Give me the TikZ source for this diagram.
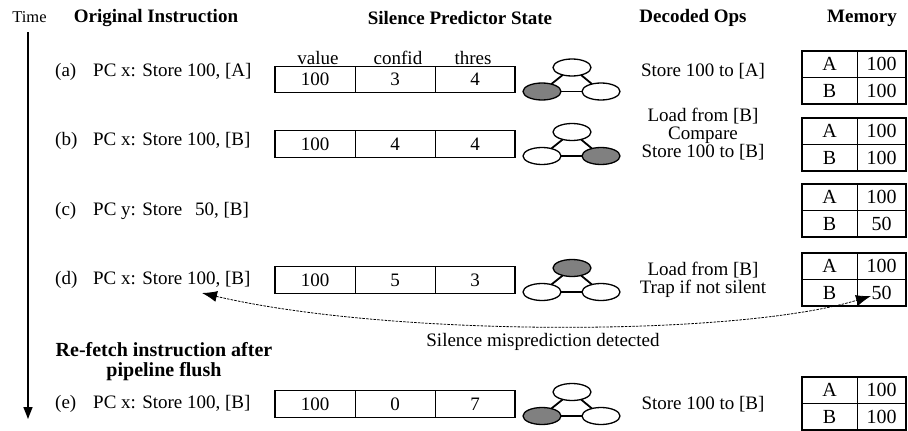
\documentclass[tikz,border=0pt]{standalone}
\usepackage{fontspec}
\setmainfont{Liberation Serif}
\usetikzlibrary{arrows.meta,shapes.geometric}
\definecolor{stategray}{gray}{0.5}
\newcommand{\PredRow}[4]{%
  \node[cell] (#1v) at (315,#2) {100};
  \node[cell] (#1c) at (395,#2) {#3};
  \node[cell] (#1t) at (475,#2) {#4};
  \draw[tblouter] (#1v.north west) rectangle (#1t.south east);
}
\newcommand{\StateTri}[5]{%
  \node[st,fill=#3] (#1T) at (572,#2-12) {};
  \node[st,fill=#4] (#1L) at (542,#2+12) {};
  \node[st,fill=#5] (#1R) at (601,#2+12) {};
  \draw[stedge] (#1T) -- (#1L);
  \draw[stedge] (#1T) -- (#1R);
  \draw[stedge] (#1L) -- (#1R);
}
\newcommand{\MemTab}[4]{%
  \node[memA] (#1a1) at (829.5,#2+13.25) {A};
  \node[memV] (#1a2) at (881.5,#2+13.25) {100};
  \node[memA] (#1b1) at (829.5,#2+39.75) {B};
  \node[memV] (#1b2) at (881.5,#2+39.75) {#3};
  \draw[memouter] (#1a1.north west) rectangle (#1b2.south east);
}
\begin{document}
\begin{tikzpicture}[x=1pt,y=-1pt,
  txt/.style={font=\fontsize{19}{18}\selectfont, inner sep=0pt, align=center},
  rowtxt/.style={font=\fontsize{19}{16}\selectfont, inner sep=0pt, anchor=west},
  hdr/.style={font=\bfseries\fontsize{19}{20}\selectfont, inner sep=0pt, align=center},
  colhdr/.style={font=\fontsize{19}{19}\selectfont, inner sep=0pt, anchor=base},
  cell/.style={draw, line width=0.8pt, minimum width=80pt, minimum height=26.5pt,
    inner sep=0pt, outer sep=0pt, font=\fontsize{19}{19}\selectfont},
  tblouter/.style={line width=1.4pt},
  memA/.style={draw, line width=0.8pt, minimum width=55pt, minimum height=26.5pt,
    inner sep=0pt, outer sep=0pt, font=\fontsize{20}{20}\selectfont},
  memV/.style={memA, minimum width=49pt},
  memouter/.style={line width=2pt},
  st/.style={ellipse, draw, line width=1.3pt, minimum width=38pt, minimum height=17pt,
    inner sep=0pt, outer sep=0pt},
  stedge/.style={line width=1.8pt},
  mis/.style={line width=0.8pt, dash pattern=on 2.5pt off 1.2pt,
    {Latex[length=15pt,width=11pt]}-{Latex[length=15pt,width=11pt]}},
  timearrow/.style={line width=1.6pt, -{Triangle[length=12pt,width=9pt]}}
]
\useasboundingbox (0,0) rectangle (908,431);

% headers
\node[font=\fontsize{16.5}{16.5}\selectfont, inner sep=0pt] (time) at (29.5,17) {Time};
\node[hdr] (hOrig) at (156,18) {Original Instruction};
\node[hdr] (hPred) at (460,18) {Silence Predictor State};
\node[hdr] (hDec) at (693,18) {Decoded Ops};
\node[hdr] (hMem) at (862,18) {Memory};

% time arrow
\coordinate (tTop) at (28,32);
\coordinate (tBot) at (28,419);
\draw[timearrow] (tTop) -- (tBot);

% original instructions
\node[rowtxt] (ia) at (55,72) {\makebox[38pt][l]{(a)}PC x: Store 100, [A]};
\node[rowtxt] (ib) at (55,141) {\makebox[38pt][l]{(b)}PC x: Store 100, [B]};
\node[rowtxt] (ic) at (55,211) {\makebox[38pt][l]{(c)}PC y: Store \ \,50, [B]};
\node[rowtxt] (id) at (55,280) {\makebox[38pt][l]{(d)}PC x: Store 100, [B]};
\node[rowtxt] (ie) at (55,404) {\makebox[38pt][l]{(e)}PC x: Store 100, [B]};
\node[hdr, font=\bfseries\fontsize{20}{20}\selectfont] (refetch) at (164,362)
  {Re-fetch instruction after\\pipeline flush};

% predictor tables
\node[colhdr] (hv) at (318,64) {value};
\node[colhdr] (hc) at (398,64) {confid};
\node[colhdr] (ht) at (473,64) {thres};
\PredRow{a}{79.5}{3}{4}
\PredRow{b}{144}{4}{4}
\PredRow{d}{280}{5}{3}
\PredRow{e}{404}{0}{7}

% state machines
\StateTri{sa}{79.5}{white}{stategray}{white}
\StateTri{sb}{144}{white}{white}{stategray}
\StateTri{sd}{280}{stategray}{white}{white}
\StateTri{se}{404}{white}{stategray}{white}

% decoded ops
\node[txt] (oa) at (703,71) {Store 100 to [A]};
\node[txt] (ob) at (703,134) {Load from [B]\\Compare\\Store 100 to [B]};
\node[txt] (od) at (703,280) {Load from [B]\\Trap if not silent};
\node[txt] (oe) at (703,404) {Store 100 to [B]};

% memory
\MemTab{ma}{51}{100}{}
\MemTab{mb}{118}{100}{}
\MemTab{mc}{184}{50}{}
\MemTab{md}{253}{50}{}
\MemTab{me}{377}{100}{}

% misprediction arrow
\coordinate (dtip) at (202,293);
\coordinate (mtip) at (871,296);
\draw[mis] (dtip) .. controls (390,337) and (735,337) .. (mtip);
\node[txt] (mislbl) at (543,342) {Silence misprediction detected};
\end{tikzpicture}
\end{document}
